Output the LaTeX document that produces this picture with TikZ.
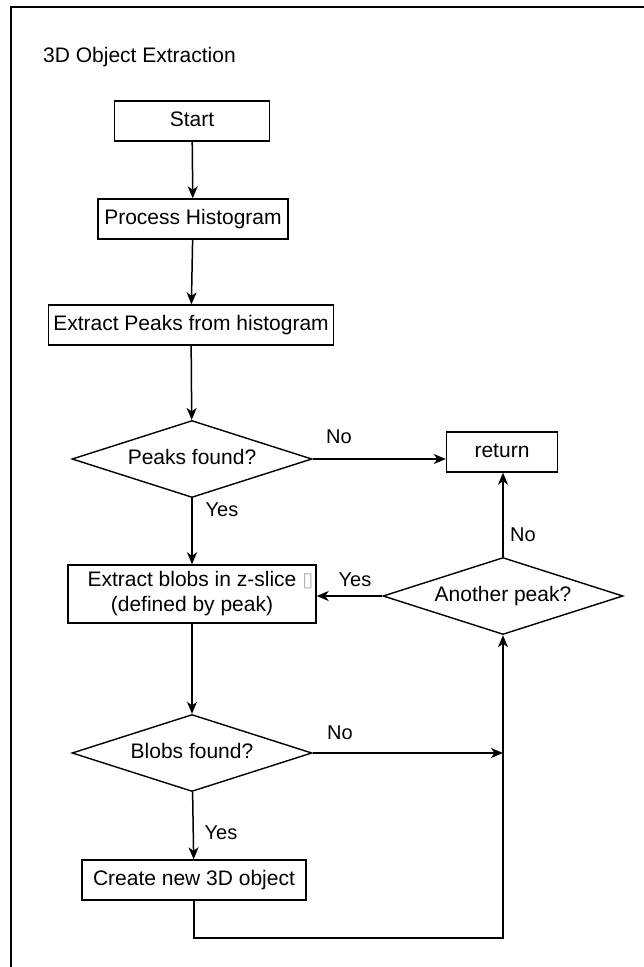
\documentclass[tikz,border=0pt]{standalone}
\usepackage{fontspec}
\setmainfont{Liberation Sans}
\newfontfamily\glyphfont{DejaVu Sans}
\usetikzlibrary{shapes.geometric, arrows.meta, positioning}

\begin{document}
\begin{tikzpicture}[
    x=1pt, y=-1pt,
    every node/.style={font=\fontsize{21}{25}\selectfont},
    box/.style={draw, line width=1.4pt, inner sep=0pt},
    block/.style={box, minimum height=40pt, text height=15pt, text depth=4.5pt},
    decision/.style={box, diamond, aspect=3.16, minimum width=240pt, minimum height=77pt,
                     text height=15pt, text depth=4.5pt},
    lbl/.style={font=\fontsize{20}{24}\selectfont, inner sep=0pt},
    flow/.style={-{Stealth[length=12pt, width=10pt, inset=3.5pt]}, line width=1.5pt}
]
    \useasboundingbox (0,0) rectangle (644,967);

    % Frame, only its top and left edges fall inside the page
    \draw[line width=2.5pt] (11,967) -- (11,7) -- (644,7);
    \node[anchor=base west, inner sep=0pt] (title) at (43,62) {3D Object Extraction};

    % Main column
    \node[block, minimum width=155pt] (start)    at (192,121) {Start};
    \node[block, minimum width=190pt] (proc)     at (193,219) {Process Histogram};
    \node[block, minimum width=285pt] (extpeaks) at (191,325) {Extract Peaks from histogram};
    \node[decision]                   (pfound)   at (192,459) {Peaks found?};
    \node[box, minimum width=248pt, minimum height=58pt, align=center] (blobs) at (192,594)
        {Extract blobs in z-slice\rlap{ {\glyphfont\color{gray!60}\fontsize{20}{20}\selectfont ▯}}\\(defined by peak)};
    \node[decision]                   (bfound)   at (192,753) {Blobs found?};
    \node[block, minimum width=224pt] (create)   at (194,880) {Create new 3D object};

    % Right column
    \node[block, minimum width=111pt] (ret)      at (502,452) {return};
    \node[decision]                   (another)  at (503,596) {Another peak?};
    \coordinate (loopend) at (503,938);

    % Connectors
    \draw[flow] (start) -- (proc);
    \draw[flow] (proc) -- (extpeaks);
    \draw[flow] (extpeaks) -- (pfound);
    \draw[flow] (pfound.east) -- (ret.west |- pfound.east);
    \draw[flow] (pfound) -- (blobs);
    \draw[flow] (another.north) -- (another.north |- ret.south);
    \draw[flow] (another.west) -- (blobs.east |- another.west);
    \draw[flow] (blobs) -- (bfound);
    \draw[flow] (bfound.east) -- (bfound.east -| another.south);
    \draw[flow] (bfound) -- (create);
    \draw[flow] (create.south) |- (loopend) -- (another.south);

    % Branch labels
    \node[lbl] (pno)   at (339,437) {No};
    \node[lbl] (pyes)  at (222,510) {Yes};
    \node[lbl] (ano)   at (523,535) {No};
    \node[lbl] (ayes)  at (355,580) {Yes};
    \node[lbl] (bno)   at (340,733) {No};
    \node[lbl] (byes)  at (221,833) {Yes};
\end{tikzpicture}
\end{document}
